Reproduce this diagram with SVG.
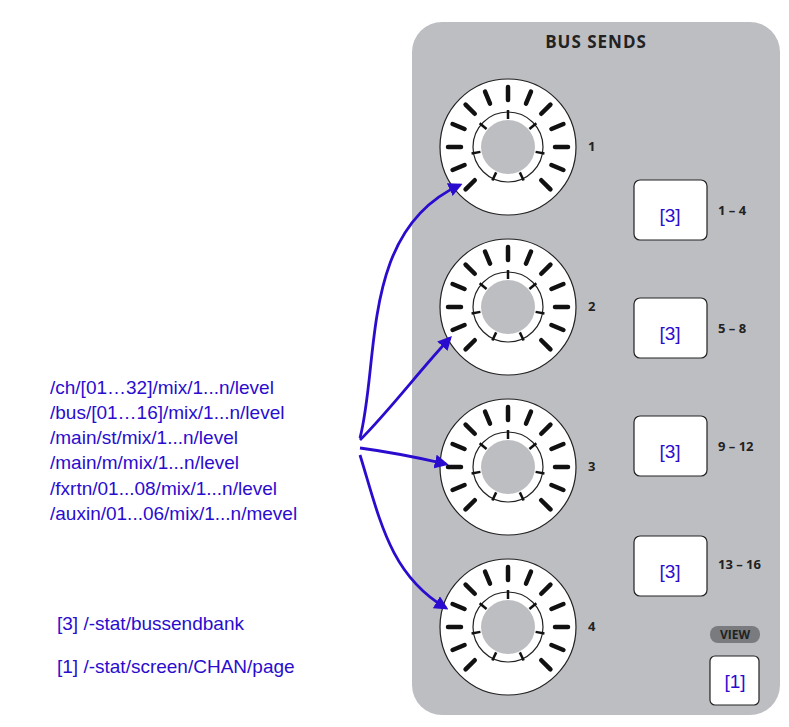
<svg xmlns="http://www.w3.org/2000/svg" xmlns:xlink="http://www.w3.org/1999/xlink" width="789" height="727" viewBox="0 0 789 727">
<style>
.bl{font-family:"Liberation Sans",Arial,sans-serif;font-size:19px;fill:#2a0ccf}
.lb{font-family:"Open Sans","DejaVu Sans",sans-serif;font-weight:bold;font-size:13px;fill:#222}
.btn{fill:#fff;stroke:#222;stroke-width:1.2}
.tk{stroke:#111;stroke-width:4.5;stroke-linecap:round}
.ti{stroke:#111;stroke-width:2.5}
.ar{fill:none;stroke:#2a0ccf;stroke-width:2.8}
</style>
<defs>
<marker id="ah" viewBox="0 0 10 10" refX="8" refY="5" markerWidth="5" markerHeight="5" orient="auto"><path d="M0,0L10,5L0,10z" fill="#2a0ccf"/></marker>
<g id="knob">
<circle r="68" fill="#fff" stroke="#222" stroke-width="1.2"/>
<circle r="35" fill="none" stroke="#222" stroke-width="1.2"/>
<circle r="27" fill="#bdbec2"/>
<g class="tk">
<line y1="-47" y2="-60" transform="rotate(-135)"/><line y1="-47" y2="-60" transform="rotate(-112.5)"/><line y1="-47" y2="-60" transform="rotate(-90)"/><line y1="-47" y2="-60" transform="rotate(-67.5)"/><line y1="-47" y2="-60" transform="rotate(-45)"/><line y1="-47" y2="-60" transform="rotate(-22.5)"/><line y1="-47" y2="-60"/><line y1="-47" y2="-60" transform="rotate(22.5)"/><line y1="-47" y2="-60" transform="rotate(45)"/><line y1="-47" y2="-60" transform="rotate(67.5)"/><line y1="-47" y2="-60" transform="rotate(90)"/><line y1="-47" y2="-60" transform="rotate(112.5)"/><line y1="-47" y2="-60" transform="rotate(135)"/>
</g>
<g class="ti">
<line y1="-28" y2="-37"/><line y1="-28" y2="-37" transform="rotate(50)"/><line y1="-28" y2="-37" transform="rotate(-50)"/><line y1="-28" y2="-37" transform="rotate(100)"/><line y1="-28" y2="-37" transform="rotate(-100)"/><line y1="-28" y2="-37" transform="rotate(155)"/><line y1="-28" y2="-37" transform="rotate(-155)"/>
</g>
</g>
</defs>
<rect id="panel" x="412" y="22" width="368" height="693" rx="30" fill="#bdbec2"/>
<text x="596" y="48" text-anchor="middle" class="lb" style="font-size:17px;letter-spacing:1px">BUS SENDS</text>
<g id="knob1"><use xlink:href="#knob" x="508" y="147"/><text x="588" y="151" class="lb">1</text></g>
<g id="knob2"><use xlink:href="#knob" x="508" y="307"/><text x="588" y="311" class="lb">2</text></g>
<g id="knob3"><use xlink:href="#knob" x="508" y="467"/><text x="588" y="471" class="lb">3</text></g>
<g id="knob4"><use xlink:href="#knob" x="508" y="627"/><text x="588" y="631" class="lb">4</text></g>
<g id="btn1"><rect class="btn" x="634" y="180" width="73" height="60" rx="6"/><text x="670" y="222" text-anchor="middle" class="bl">[3]</text><text x="718" y="215" class="lb">1 – 4</text></g>
<g id="btn2"><rect class="btn" x="634" y="298" width="73" height="60" rx="6"/><text x="670" y="340" text-anchor="middle" class="bl">[3]</text><text x="718" y="333" class="lb">5 – 8</text></g>
<g id="btn3"><rect class="btn" x="634" y="416" width="73" height="60" rx="6"/><text x="670" y="458" text-anchor="middle" class="bl">[3]</text><text x="718" y="451" class="lb">9 – 12</text></g>
<g id="btn4"><rect class="btn" x="634" y="536" width="73" height="60" rx="6"/><text x="670" y="578" text-anchor="middle" class="bl">[3]</text><text x="718" y="569" class="lb">13 – 16</text></g>
<g id="view"><rect x="710" y="626" width="50" height="17" rx="8" fill="#7a7b7e"/><text x="735" y="639" text-anchor="middle" class="lb" style="font-size:12px">VIEW</text></g>
<g id="btn5"><rect class="btn" x="710" y="656" width="49" height="49" rx="5"/><text x="735" y="688" text-anchor="middle" class="bl">[1]</text></g>
<g id="paths" class="bl">
<text x="50" y="394">/ch/[01…32]/mix/1...n/level</text>
<text x="50" y="419">/bus/[01…16]/mix/1...n/level</text>
<text x="50" y="444">/main/st/mix/1...n/level</text>
<text x="50" y="469">/main/m/mix/1...n/level</text>
<text x="50" y="495">/fxrtn/01...08/mix/1...n/level</text>
<text x="50" y="520">/auxin/01...06/mix/1...n/mevel</text>
<text x="57" y="630">[3] /-stat/bussendbank</text>
<text x="57" y="673">[1] /-stat/screen/CHAN/page</text>
</g>
<g id="connectors">
<path class="ar" marker-end="url(#ah)" d="M360,438 C380,360 360,230 460,185"/>
<path class="ar" marker-end="url(#ah)" d="M360,440 C390,410 420,370 450,338"/>
<path class="ar" marker-end="url(#ah)" d="M360,448 C390,452 420,458 446,464"/>
<path class="ar" marker-end="url(#ah)" d="M360,455 C380,520 390,575 446,608"/>
</g>
</svg>
